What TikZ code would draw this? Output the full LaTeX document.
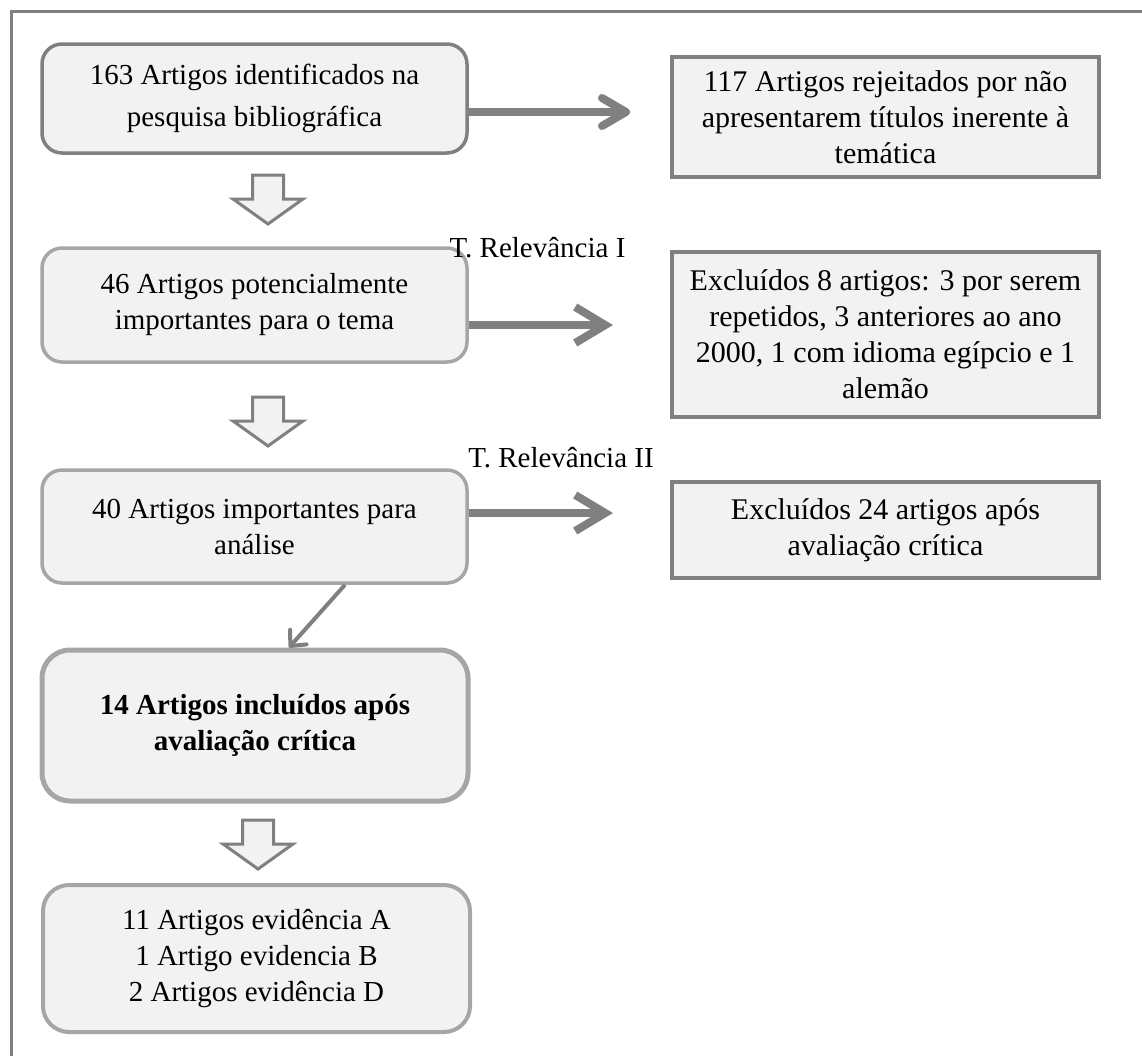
\documentclass[tikz,border=0pt]{standalone}
\usepackage{fontspec}
\setmainfont{Liberation Serif}
\usetikzlibrary{arrows.meta}
\definecolor{boxfill}{HTML}{F2F2F2}
\definecolor{darkline}{HTML}{808080}
\definecolor{lightline}{HTML}{A6A6A6}
\begin{document}
\begin{tikzpicture}[x=1pt,y=-1pt,
    txt/.style={font=\fontsize{29}{36}\selectfont,align=center,inner sep=0pt},
    stepbox/.style={txt,rectangle,rounded corners=20pt,draw=lightline,line width=3.5pt,fill=boxfill},
    outbox/.style={txt,font=\fontsize{30}{36}\selectfont,rectangle,draw=darkline,line width=4pt,fill=boxfill},
    fat/.style={draw=darkline,line width=8pt},
    thin/.style={draw=darkline,line width=4pt,-{Straight Barb[length=12pt,width=22pt,round]}},
    hollow/.pic={\draw[draw=darkline,fill=boxfill,line width=3pt,line join=miter]
      (-15.5,0) -- (15.5,0) -- (15.5,24) -- (35,24) -- (0,49) -- (-35,24) -- (-15.5,24) -- cycle;}]
    \useasboundingbox (0,0) rectangle (1142,1055);
    % frame
    \draw[darkline,line width=3pt] (11,1060) -- (11,11) -- (1150,11);
    % left column
    \node[stepbox,draw=darkline,minimum width=425,minimum height=109] (b1) at (254.5,98.5)
      {163 Artigos identificados na\\[6pt]pesquisa bibliográfica};
    \node[stepbox,minimum width=425,minimum height=114] (b2) at (254.5,305)
      {46 Artigos potencialmente\\importantes para o tema};
    \node[stepbox,minimum width=425,minimum height=113] (b3) at (254.5,526.5)
      {40 Artigos importantes para\\análise};
    \node[stepbox,line width=5pt,rounded corners=28pt,minimum width=426,minimum height=151,font=\fontsize{29}{36}\selectfont\bfseries] (b4) at (255,725.5)
      {14 Artigos incluídos após\\avaliação crítica};
    \node[stepbox,line width=4pt,rounded corners=26pt,minimum width=427,minimum height=147] (b5) at (256.5,958.5)
      {11 Artigos evidência A\\1 Artigo evidencia B\\2 Artigos evidência D};
    % right column
    \node[outbox,minimum width=427,minimum height=120] (r1) at (885.5,117)
      {117 Artigos rejeitados por não\\apresentarem títulos inerente à\\temática};
    \node[outbox,minimum width=427,minimum height=165] (r2) at (885.5,334.5)
      {Excluídos 8 artigos: 3 por serem\\repetidos, 3 anteriores ao ano\\2000, 1 com idioma egípcio e 1\\alemão};
    \node[outbox,minimum width=427,minimum height=96] (r3) at (885.5,530)
      {Excluídos 24 artigos após\\avaliação crítica};
    \node[txt] (l1) at (537.5,248) {T. Relevância I};
    \node[txt] (l2) at (561,458) {T. Relevância II};
    % arrows
    \coordinate (t1) at (630,112);
    \coordinate (t2) at (613,325);
    \coordinate (t3) at (613,513);
    \draw[fat,-{Straight Barb[length=24pt,width=28pt,round]}] (b1.east |- t1) -- (t1);
    \draw[fat,-{Straight Barb[length=30pt,width=36pt]}] (b2.east |- t2) -- (t2);
    \draw[fat,-{Straight Barb[length=30pt,width=36pt]}] (b3.east |- t3) -- (t3);
    \draw[thin] (b3.south -| 345,0) -- (b4.north -| 289,0);
    \pic at (268,175) {hollow};
    \pic at (268,397) {hollow};
    \pic at (258,820) {hollow};
\end{tikzpicture}
\end{document}
